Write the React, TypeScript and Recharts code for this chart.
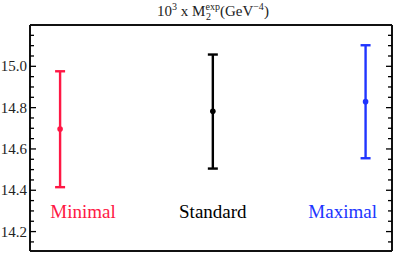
import { useLayoutEffect } from 'react';
import { ComposedChart, Scatter, ErrorBar, XAxis, YAxis } from 'recharts';

// values (10^3 x M2 exp, GeV^-4)
const categories = ['Minimal', 'Standard', 'Maximal'];
const positions = [1, 2, 3];
const centers = [14.696, 14.782, 14.829];
const lows = [14.415, 14.505, 14.555];
const highs = [14.976, 15.057, 15.102];
const colors = ['#ff1744', '#000000', '#2035ff'];
const labelX = [1.15, 2.0, 2.85];
const labelY = 14.3;
const yTicks = [14.15, 14.2, 14.25, 14.3, 14.35, 14.4, 14.45, 14.5, 14.55, 14.6, 14.65, 14.7, 14.75, 14.8, 14.85, 14.9, 14.95, 15.0, 15.05, 15.1, 15.15];
const xDomain = [0.803, 3.173];
const yDomain = [14.106, 15.2];

const FONT = "'Liberation Serif', 'Times New Roman', serif";

if (typeof document !== 'undefined' && document.body) document.body.style.margin = '0';

const series = categories.map((name, i) => ({
  name,
  color: colors[i],
  data: [{ x: positions[i], y: centers[i], err: [centers[i] - lows[i], highs[i] - centers[i]] }],
}));
const labels = categories.map((name, i) => ({ x: labelX[i], y: labelY, name, color: colors[i] }));

const isMajor = (v: number) => Math.abs(v * 5 - Math.round(v * 5)) < 1e-6;

const LeftTick = ({ x, y, payload }: any) => {
  const major = isMajor(payload.value);
  return (
    <g>
      <line x1={x} x2={x + (major ? 6 : 4)} y1={y} y2={y} stroke="#000" strokeWidth={1.3} />
      {major && (
        <text x={x - 3} y={y} dy={5} textAnchor="end" fontSize={15} fontFamily="Liberation Serif" fill="#222">
          {payload.value.toFixed(1)}
        </text>
      )}
    </g>
  );
};

const RightTick = ({ x, y, payload }: any) => {
  const major = isMajor(payload.value);
  return <line x1={x} x2={x - (major ? 6 : 4)} y1={y} y2={y} stroke="#000" strokeWidth={1.3} />;
};

const LabelShape = ({ cx, cy, payload }: any) => (
  <text x={cx} y={cy} dy={7} textAnchor="middle" fontSize={19} fontFamily="Liberation Serif" fill={payload.color}>
    {payload.name}
  </text>
);

const frameLine = { stroke: '#111', strokeWidth: 2 };

export default function App() {
  useLayoutEffect(() => {
    document.body.style.margin = '0';
  }, []);
  return (
    <div style={{ width: 399, height: 256, position: 'relative', background: '#fff', fontFamily: FONT }}>
      <svg width={399} height={23} style={{ position: 'absolute', left: 0, top: 0 }}>
        <text x={213} y={16} textAnchor="middle" fontFamily="Liberation Serif" fontSize={15} fill="#222">
          10
          <tspan fontSize={10} dy={-6}>3</tspan>
          <tspan dy={6}> x M</tspan>
          <tspan fontSize={10} dy={-6}>exp</tspan>
          <tspan fontSize={10} dx={-14} dy={10}>2</tspan>
          <tspan dx={9} dy={-4}>(GeV</tspan>
          <tspan fontSize={10} dy={-6}>−4</tspan>
          <tspan dy={6}>)</tspan>
        </text>
      </svg>
      <ComposedChart width={399} height={256} margin={{ top: 24, right: 6, bottom: 4, left: 0 }}>
        <XAxis type="number" dataKey="x" xAxisId="b" domain={xDomain} tick={false} height={1} axisLine={frameLine} allowDataOverflow />
        <XAxis type="number" dataKey="x" xAxisId="t" orientation="top" domain={xDomain} tick={false} height={1} axisLine={frameLine} allowDataOverflow />
        <YAxis type="number" yAxisId="l" domain={yDomain} ticks={yTicks} tick={<LeftTick />} tickLine={false} tickSize={0} tickMargin={0} width={30} axisLine={frameLine} interval={0} allowDataOverflow />
        <YAxis type="number" yAxisId="r" orientation="right" domain={yDomain} ticks={yTicks} tick={<RightTick />} tickLine={false} tickSize={0} tickMargin={0} width={1} axisLine={frameLine} interval={0} allowDataOverflow />
        {series.map((s) => (
          <Scatter key={s.name} data={s.data} xAxisId="b" yAxisId="l" dataKey="y" fill={s.color} shape={(p: any) => <circle cx={p.cx} cy={p.cy} r={2.8} fill={s.color} />} isAnimationActive={false}>
            <ErrorBar dataKey="err" direction="y" width={5} stroke={s.color} strokeWidth={2.4} isAnimationActive={false} />
          </Scatter>
        ))}
        <Scatter data={labels} xAxisId="b" yAxisId="l" dataKey="y" shape={<LabelShape />} isAnimationActive={false} />
        <Scatter data={labels} xAxisId="t" yAxisId="r" dataKey="y" shape={() => <g />} isAnimationActive={false} />
      </ComposedChart>
    </div>
  );
}
